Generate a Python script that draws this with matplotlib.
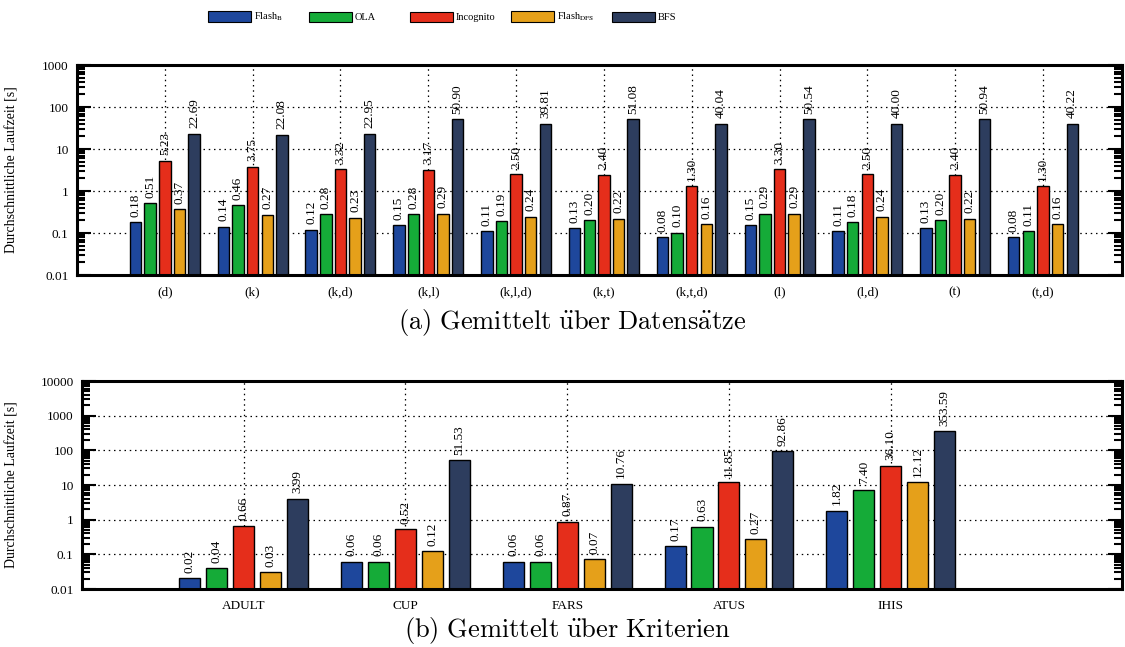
import matplotlib
matplotlib.use('Agg')
import matplotlib.pyplot as plt
import numpy as np
from matplotlib.patches import Patch
from matplotlib.ticker import LogLocator, NullFormatter

plt.rcParams['font.family'] = ['Liberation Serif', 'DejaVu Serif']
plt.rcParams['mathtext.fontset'] = 'stix'

# data
series = ['Flash$_{\\mathrm{B}}$', 'OLA', 'Incognito', 'Flash$_{\\mathrm{DFS}}$', 'BFS']
colors = ['#1E479C', '#15AB38', '#E52E1B', '#E5A01A', '#2D3D5E']

crit = ['(d)', '(k)', '(k,d)', '(k,l)', '(k,l,d)', '(k,t)', '(k,t,d)', '(l)', '(l,d)', '(t)', '(t,d)']
crit_flashb = [0.18, 0.14, 0.12, 0.15, 0.11, 0.13, 0.08, 0.15, 0.11, 0.13, 0.08]
crit_ola = [0.51, 0.46, 0.28, 0.28, 0.19, 0.20, 0.10, 0.29, 0.18, 0.20, 0.11]
crit_incognito = [5.23, 3.75, 3.32, 3.17, 2.50, 2.40, 1.30, 3.30, 2.50, 2.40, 1.30]
crit_flashdfs = [0.37, 0.27, 0.23, 0.29, 0.24, 0.22, 0.16, 0.29, 0.24, 0.22, 0.16]
crit_bfs = [22.69, 22.08, 22.95, 50.90, 39.81, 51.08, 40.04, 50.54, 40.00, 50.94, 40.22]

datasets = ['ADULT', 'CUP', 'FARS', 'ATUS', 'IHIS']
ds_flashb = [0.02, 0.06, 0.06, 0.17, 1.82]
ds_ola = [0.04, 0.06, 0.06, 0.63, 7.40]
ds_incognito = [0.66, 0.52, 0.87, 11.85, 36.10]
ds_flashdfs = [0.03, 0.12, 0.07, 0.27, 12.12]
ds_bfs = [3.99, 51.53, 10.76, 92.86, 353.59]

fig = plt.figure(figsize=(11.25, 6.47), dpi=100)
ax1 = fig.add_axes([77/1125, 1-275/647, 1045/1125, 210/647])
ax2 = fig.add_axes([82/1125, 1-589/647, 1040/1125, 208/647])


def draw_panel(ax, cats, vals, ymax, xmax):
    x = np.arange(len(cats))
    pitch = 1/6
    for k, v in enumerate(vals):
        pos = x + (k - 2) * pitch
        ax.bar(pos, v, width=0.13, bottom=0.001, color=colors[k], edgecolor='black',
               linewidth=1.0, zorder=3)
        for px, val in zip(pos, v):
            ax.annotate('%.2f' % val, (px, val), xytext=(0, 4), textcoords='offset points',
                        rotation=90, ha='center', va='bottom', fontsize=9.5, zorder=4)
    ax.set_yscale('log')
    ax.set_ylim(0.01, ymax)
    ax.set_xlim(-1.0, xmax)
    ax.set_xticks(x)
    ax.set_xticklabels(cats, fontsize=9.5)
    ax.tick_params(axis='x', length=0, pad=8)
    ax.yaxis.set_major_locator(LogLocator(base=10, numticks=20))
    ax.yaxis.set_minor_locator(LogLocator(base=10, subs=np.arange(2, 10), numticks=20))
    ax.yaxis.set_minor_formatter(NullFormatter())
    ax.set_yticklabels(['%g' % t for t in ax.get_yticks()])
    ax.set_ylim(0.01, ymax)
    ax.tick_params(axis='y', which='major', direction='in', length=10, width=1.5,
                   left=True, right=True, labelsize=9.5, pad=6)
    ax.tick_params(axis='y', which='minor', direction='in', length=6, width=1.5,
                   left=True, right=True)
    ax.grid(True, which='major', axis='both', color='black', linestyle=(0, (1.2, 3)),
            linewidth=0.9, zorder=1)
    ax.set_axisbelow(True)
    for s in ax.spines.values():
        s.set_linewidth(2.2)
        s.set_zorder(5)
    ax.set_ylabel('Durchschnittliche Laufzeit [s]', fontsize=10)


draw_panel(ax1, crit, [crit_flashb, crit_ola, crit_incognito, crit_flashdfs, crit_bfs], 1000, 10.9)
draw_panel(ax2, datasets, [ds_flashb, ds_ola, ds_incognito, ds_flashdfs, ds_bfs], 10000, 5.43)
ax1.yaxis.set_label_coords(-58/1045, 0.5)
ax2.yaxis.set_label_coords(-63/1040, 0.5)

# legend
for i, (name, c) in enumerate(zip(series, colors)):
    fig.legend(handles=[Patch(facecolor=c, edgecolor='black', linewidth=0.8)], labels=[name],
               loc='center left', bbox_to_anchor=((208 + 101 * i) / 1125, 1 - 17 / 647),
               frameon=False, fontsize=7.5, handlelength=4.1, handleheight=1.2,
               handletextpad=0.3, borderpad=0, borderaxespad=0)

fig.text(572/1125, 1 - 322/647, r'$\mathrm{(a)\ Gemittelt\ \ddot{u}ber\ Datens\ddot{a}tze}$',
         math_fontfamily='cm', fontsize=19, ha='center', va='center')
fig.text(567/1125, 1 - 631/647, r'$\mathrm{(b)\ Gemittelt\ \ddot{u}ber\ Kriterien}$',
         math_fontfamily='cm', fontsize=19, ha='center', va='center')

fig.savefig('out.png', dpi=100)
